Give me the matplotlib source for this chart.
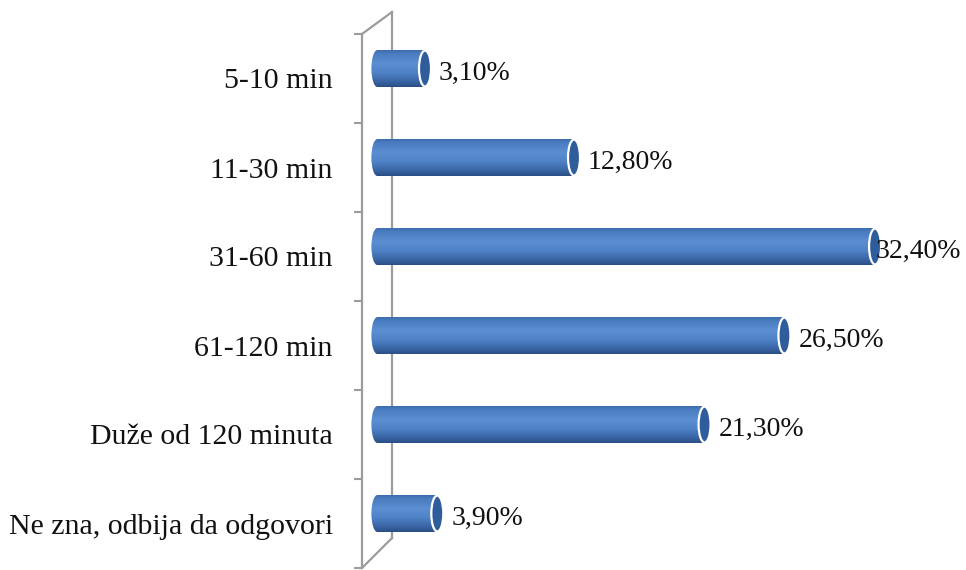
import numpy as np
import matplotlib
matplotlib.use("Agg")
import matplotlib.pyplot as plt
from matplotlib.patches import Ellipse
from matplotlib.lines import Line2D
from matplotlib.colors import LinearSegmentedColormap

categories = ["5-10 min", "11-30 min", "31-60 min", "61-120 min",
              "Duže od 120 minuta", "Ne zna, odbija da odgovori"]
values = [3.10, 12.80, 32.40, 26.50, 21.30, 3.90]
value_labels = ["3,10%", "12,80%", "32,40%", "26,50%", "21,30%", "3,90%"]

W, H = 966, 570
fig = plt.figure(figsize=(W / 100, H / 100), dpi=100)
fig.patch.set_facecolor("white")

ax_left, ax_right, ax_top, ax_bot = 362, 966, 34, 568
ax = fig.add_axes([ax_left / W, (H - ax_bot) / H, (ax_right - ax_left) / W, (ax_bot - ax_top) / H])
ax.set_facecolor("none")

px_per_unit = 15.36
x0_px = 377.4
xmin = -(x0_px - ax_left) / px_per_unit
xmax = xmin + (ax_right - ax_left) / px_per_unit

font = ["Liberation Serif", "DejaVu Serif"]
fs_cat = 21.5
fs_val = 20

wall_col = "#9c9c9c"
cmap = LinearSegmentedColormap.from_list(
    "cyl", [(0.0, "#3b69a8"), (0.12, "#4a7cc0"), (0.38, "#5c8fd2"),
            (0.62, "#4f82c6"), (0.85, "#3a66a6"), (1.0, "#2a4f86")])
grad = np.linspace(0, 1, 64).reshape(-1, 1)

bar_h = 0.416
shift = 0.112
rx = 6.0 / px_per_unit
lab_off = 14.0 / px_per_unit
right_limit_px = 961

ax.set_xlim(xmin, xmax)
ax.set_ylim(len(categories) - 0.5, -0.5)

ypos = np.arange(len(categories))
bars = ax.barh(ypos - shift, values, height=bar_h, left=0, color="none", edgecolor="none", zorder=3)
texts = []
for i, (b, v) in enumerate(zip(bars, values)):
    yc = ypos[i] - shift
    ext = (-rx, v, yc + bar_h / 2, yc - bar_h / 2)
    im = ax.imshow(grad, extent=ext, aspect="auto", cmap=cmap, origin="upper",
                   interpolation="bilinear", zorder=3)
    im.set_clip_path(b)
    lcap = Ellipse((0, yc), 2 * rx, bar_h, facecolor="none", edgecolor="none", zorder=3)
    ax.add_patch(lcap)
    im2 = ax.imshow(grad, extent=ext, aspect="auto", cmap=cmap, origin="upper",
                    interpolation="bilinear", zorder=3)
    im2.set_clip_path(lcap)
    cap = Ellipse((v, yc), 2 * rx, bar_h * 0.97, facecolor="#2f5d9c",
                  edgecolor="white", linewidth=1.6, zorder=4)
    ax.add_patch(cap)
    t = ax.text(v + lab_off, yc + 0.05, value_labels[i], ha="left", va="center",
                fontsize=fs_val, family=font, color="#111111", zorder=5)
    texts.append(t)

ax.set_xlim(xmin, xmax)
ax.set_ylim(len(categories) - 0.5, -0.5)

ax.set_yticks(ypos)
ax.set_yticklabels(categories, fontsize=fs_cat, family=font, color="#111111")
ax.set_yticks(np.arange(-0.5, len(categories), 1.0), minor=True)
ax.tick_params(axis="y", which="major", length=0, pad=21)
ax.tick_params(axis="y", which="minor", length=5.5, width=1.5, color=wall_col, direction="out")
ax.set_xticks([])
for s in ["top", "right", "bottom"]:
    ax.spines[s].set_visible(False)
ax.spines["left"].set_color(wall_col)
ax.spines["left"].set_linewidth(1.6)

# keep value labels inside the figure (pushed left like the original)
fig.canvas.draw()
r = fig.canvas.get_renderer()
for t in texts:
    bb = t.get_window_extent(r)
    if bb.x1 > right_limit_px:
        dx = (bb.x1 - right_limit_px) / px_per_unit
        x, y = t.get_position()
        t.set_position((x - dx, y))

def pxline(xs, ys):
    ln = Line2D([x / W for x in xs], [1 - y / H for y in ys],
                transform=fig.transFigure, color=wall_col, linewidth=1.6, zorder=1)
    ln.set_clip_on(False)
    ax.add_line(ln)

pxline([362, 392], [34, 12])
pxline([392, 392], [12, 538])
pxline([392, 362], [538, 568])

fig.savefig("out.png", dpi=100, facecolor="white")
